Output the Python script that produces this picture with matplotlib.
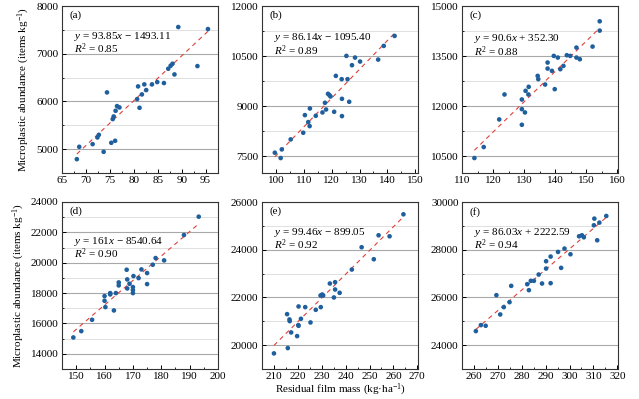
import numpy as np
import matplotlib
matplotlib.use('Agg')
import matplotlib.pyplot as plt
from matplotlib.ticker import MultipleLocator

plt.rcParams['font.family'] = ['Liberation Serif', 'DejaVu Serif']
plt.rcParams['mathtext.fontset'] = 'custom'
plt.rcParams['mathtext.rm'] = 'Liberation Serif'
plt.rcParams['mathtext.it'] = 'Liberation Serif:italic'
plt.rcParams['font.size'] = 8

# panel data
a_x = [68.1, 68.6, 71.4, 72.4, 72.7, 73.7, 74.4, 75.3, 76.1, 75.6, 75.8, 76.2, 76.5, 77.0, 80.7,
       80.9, 81.2, 81.7, 82.2, 82.6, 83.8, 84.9, 86.3, 87.2, 87.7, 88.1, 88.5, 89.3, 93.3, 95.5]
a_y = [4790, 5049, 5105, 5245, 5300, 4944, 6189, 5133, 5175, 5630, 5685, 5804, 5902, 5874, 6049,
       6315, 5867, 6147, 6357, 6238, 6357, 6406, 6385, 6685, 6748, 6790, 6566, 7559, 6741, 7517]

b_x = [99.6, 101.7, 102.1, 105.3, 109.8, 110.4, 111.6, 112.1, 112.2, 114.3, 116.7, 117.6, 118.0,
       118.7, 119.2, 119.6, 120.9, 121.5, 123.6, 123.7, 123.7, 125.3, 125.7, 126.3, 127.3, 128.4,
       130.2, 136.7, 138.7, 142.6]
b_y = [7608, 7448, 7707, 8006, 8205, 8733, 8524, 8404, 8932, 8713, 8813, 9102, 8902, 9371, 9331,
       9291, 8833, 9908, 9809, 9221, 8703, 10506, 9809, 9132, 10227, 10456, 10337, 10396, 10805, 11104]

c_x = [114.0, 117.0, 122.0, 123.7, 129.3, 129.3, 129.3, 130.3, 130.5, 131.5, 131.4, 134.4, 134.6,
       136.8, 137.6, 137.6, 139.0, 139.6, 139.9, 140.9, 141.7, 142.7, 143.8, 144.9, 146.9, 146.9,
       148.0, 152.1, 154.4, 154.4]
c_y = [10448, 10777, 11604, 12351, 12201, 11912, 11444, 11813, 12460, 12580, 12351, 12908, 12809,
       12649, 13307, 13127, 13058, 13506, 12510, 13456, 13108, 13207, 13526, 13506, 13755, 13456,
       13406, 13785, 14542, 14263]

d_x = [149.0, 151.8, 155.6, 160.0, 160.0, 160.3, 162.0, 162.0, 163.3, 164.0, 165.0, 165.0, 167.8,
       168.0, 168.0, 168.8, 170.0, 170.0, 170.0, 170.2, 172.0, 173.0, 175.0, 175.0, 177.0, 178.0,
       181.0, 188.0, 193.2]
d_y = [15077, 15495, 16242, 17802, 17495, 17077, 18000, 17912, 16857, 18000, 18703, 18505, 19538,
       18901, 18307, 18615, 18395, 18198, 18000, 19121, 18989, 19560, 19319, 18593, 19868, 20308,
       20154, 21824, 23033]

e_x = [210.0, 215.8, 215.5, 216.5, 216.6, 217.2, 219.7, 220.2, 220.3, 220.3, 221.3, 223.1, 225.3,
       227.5, 229.5, 229.6, 230.2, 230.6, 233.4, 235.1, 235.6, 235.6, 237.5, 242.6, 246.7, 251.8,
       253.8, 258.4, 264.2]
e_y = [19654, 19877, 21300, 21077, 21007, 20533, 20379, 20840, 21621, 20812, 21105, 21593, 20951,
       21481, 22081, 21593, 22123, 22081, 22583, 21998, 22639, 22332, 22193, 23169, 24103, 23601,
       24605, 24563, 25484]

f_x = [260.8, 262.9, 264.9, 269.4, 271.0, 272.5, 274.9, 275.6, 282.3, 283.0, 283.8, 285.1, 287.1,
       288.5, 290.2, 290.2, 292.1, 292.1, 295.2, 296.5, 297.9, 300.4, 304.0, 305.2, 306.0, 310.2,
       310.4, 311.6, 312.5, 315.4]
f_y = [24589, 24840, 24812, 26095, 25286, 25593, 25802, 26485, 26555, 26304, 26695, 26695, 26960,
       26583, 27211, 27517, 26597, 27713, 27908, 27239, 28047, 27810, 28563, 28605, 28521, 29024,
       29303, 28396, 29136, 29414]

slopes = [93.85, 86.14, 90.6, 161, 99.46, 86.03]
intercepts = [-1493.11, -1095.40, 352.30, -8540.64, -899.05, 2222.59]
r2 = ['0.85', '0.89', '0.88', '0.90', '0.92', '0.94']
eqs = [r'$\mathit{y}$ = 93.85$\mathit{x}$ − 1493.11',
       r'$\mathit{y}$ = 86.14$\mathit{x}$ − 1095.40',
       r'$\mathit{y}$ = 90.6$\mathit{x}$ + 352.30',
       r'$\mathit{y}$ = 161$\mathit{x}$ − 8540.64',
       r'$\mathit{y}$ = 99.46$\mathit{x}$ − 899.05',
       r'$\mathit{y}$ = 86.03$\mathit{x}$ + 2222.59']
letters = ['(a)', '(b)', '(c)', '(d)', '(e)', '(f)']

xlims = [(65, 97.6), (95, 151), (110, 160.3), (145, 200), (205, 270.3), (255, 320.3)]
ylims = [(4500, 8000), (7000, 12000), (10000, 15000), (13000, 24000), (19000, 26000), (23000, 30000)]
xsteps = [5, 10, 10, 10, 10, 10]
ysteps = [1000, 1500, 1500, 2000, 2000, 2000]
eq_y = [0.82, 0.81, 0.806, 0.766, 0.82, 0.82]

xs = [a_x, b_x, c_x, d_x, e_x, f_x]
ys = [a_y, b_y, c_y, d_y, e_y, f_y]

fig = plt.figure(figsize=(6.39, 3.99), dpi=100)
lefts = [62/639, 262/639, 462/639]
bottoms = [(399-173)/399, (399-369)/399]
w = 156/639
h = 167/399

for i in range(6):
    ax = fig.add_axes([lefts[i % 3], bottoms[i // 3], w, h])
    ax.set_xlim(*xlims[i])
    ax.set_ylim(*ylims[i])
    ax.xaxis.set_major_locator(MultipleLocator(xsteps[i]))
    ax.xaxis.set_minor_locator(MultipleLocator(xsteps[i] / 2))
    ax.yaxis.set_major_locator(MultipleLocator(ysteps[i]))
    ax.yaxis.set_minor_locator(MultipleLocator(ysteps[i] / 2))
    ax.grid(True, which='major', axis='y', color='#a8a8a8', lw=0.8)
    ax.grid(True, which='minor', axis='y', color='#e0e0e0', lw=0.7)
    ax.set_axisbelow(True)
    ax.tick_params(which='both', direction='in', top=False, right=False, labelsize=8, pad=2.5)
    ax.tick_params(which='major', length=3, width=0.7)
    ax.tick_params(which='minor', length=1.6, width=0.6)
    for s in ax.spines.values():
        s.set_linewidth(0.8)
        s.set_color('#333333')

    xx = np.array([min(xs[i]), max(xs[i])])
    ax.plot(xx, slopes[i] * xx + intercepts[i], color='#e0403a', lw=0.8,
            linestyle=(0, (4, 3.5)), zorder=2)
    ax.scatter(xs[i], ys[i], s=11, color='#1f5f9e', edgecolors='none', zorder=3)

    ax.text(0.05, 0.942, letters[i], transform=ax.transAxes, va='center', ha='left')
    ax.text(0.08, eq_y[i], eqs[i], transform=ax.transAxes, va='center', ha='left')
    ax.text(0.08, eq_y[i] - 0.077, r'$\mathit{R}^{\mathrm{2}}$ = ' + r2[i],
            transform=ax.transAxes, va='center', ha='left')

    if i % 3 == 0:
        ax.set_ylabel('Microplastic abundance (items kg$^{-1}$)', fontsize=8, labelpad=3)
    if i == 4:
        ax.set_xlabel('Residual film mass (kg·ha$^{-1}$)', fontsize=8, labelpad=0.5)

fig.savefig('out.png', dpi=100)
